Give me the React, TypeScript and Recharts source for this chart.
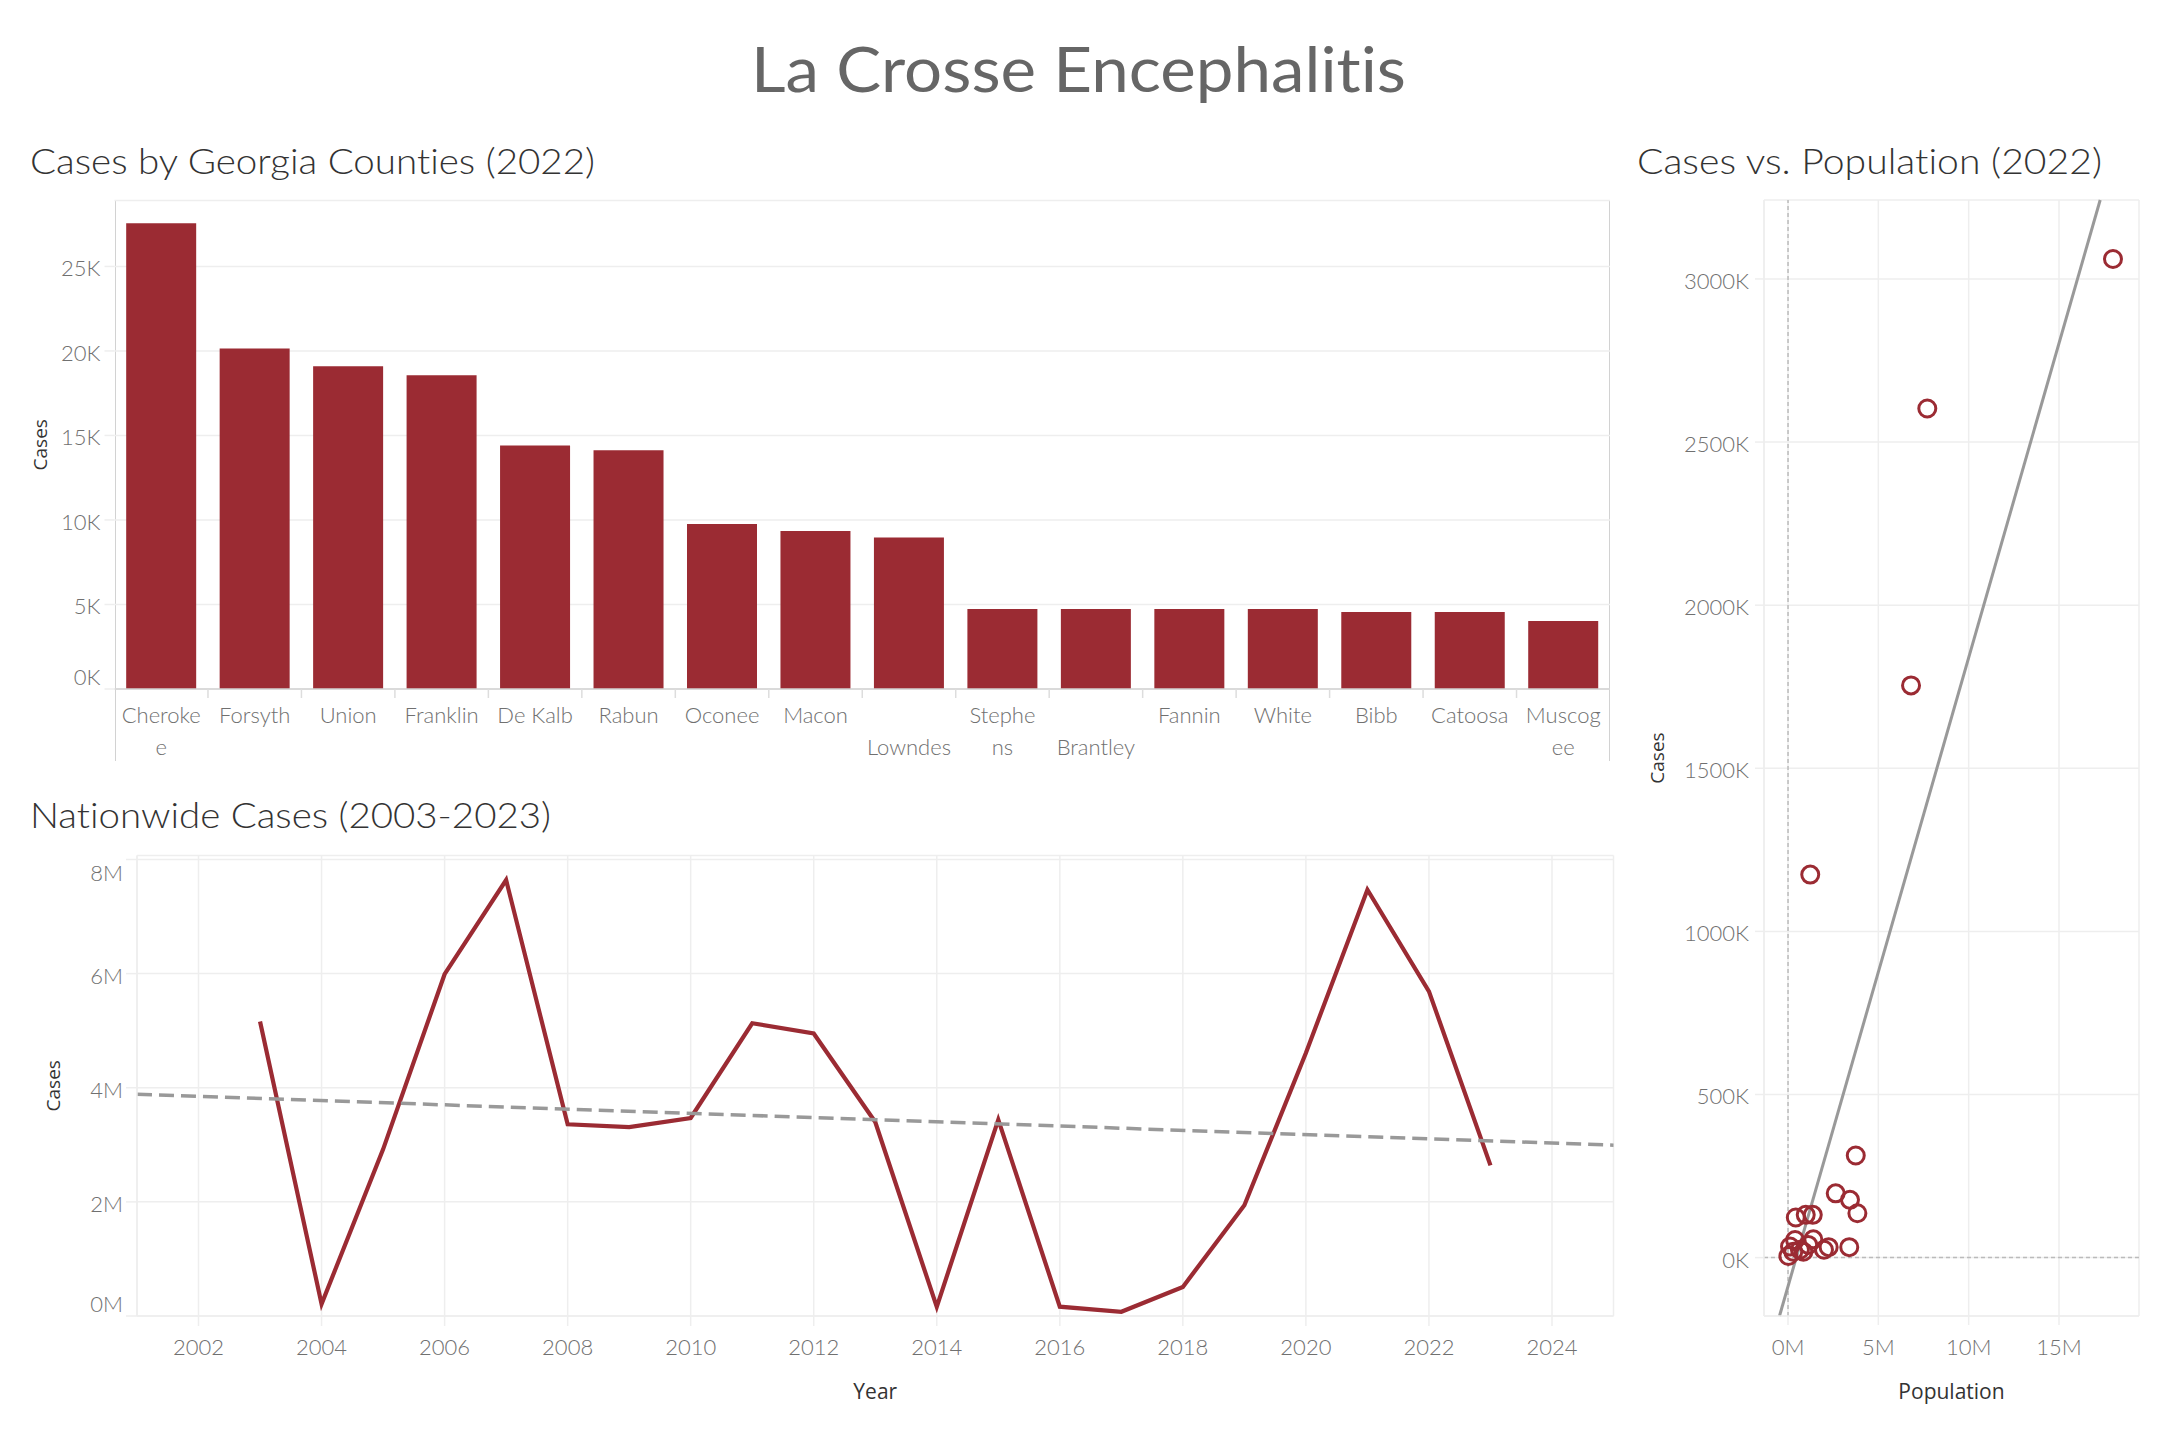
import React from 'react';
import {
  BarChart,
  Bar,
  LineChart,
  Line,
  ScatterChart,
  Scatter,
  XAxis,
  YAxis,
  CartesianGrid,
  ReferenceLine,
} from 'recharts';

// ---------- Data: Cases by Georgia Counties (2022) ----------
const COUNTIES = [
  'Cherokee', 'Forsyth', 'Union', 'Franklin', 'De Kalb', 'Rabun', 'Oconee', 'Macon',
  'Lowndes', 'Stephens', 'Brantley', 'Fannin', 'White', 'Bibb', 'Catoosa', 'Muscogee',
];
const COUNTY_TICK_LINES = [
  ['Cheroke', 'e'], ['Forsyth'], ['Union'], ['Franklin'], ['De Kalb'], ['Rabun'], ['Oconee'], ['Macon'],
  ['', 'Lowndes'], ['Stephe', 'ns'], ['', 'Brantley'], ['Fannin'], ['White'], ['Bibb'], ['Catoosa'], ['Muscog', 'ee'],
];
const COUNTY_CASES = [
  27560, 20150, 19090, 18560, 14410, 14120, 9760, 9350,
  8970, 4740, 4740, 4740, 4740, 4560, 4560, 4030,
];
const BAR_Y_TICKS = [0, 5000, 10000, 15000, 20000, 25000];

// ---------- Data: Nationwide Cases (2003-2023) ----------
const YEARS = [
  2003, 2004, 2005, 2006, 2007, 2008, 2009, 2010, 2011, 2012, 2013,
  2014, 2015, 2016, 2017, 2018, 2019, 2020, 2021, 2022, 2023,
];
const NATIONAL_CASES = [
  5160000, 210000, 2920000, 5990000, 7640000, 3360000, 3310000, 3470000, 5130000, 4950000, 3400000,
  160000, 3440000, 163000, 74000, 510000, 1940000, 4610000, 7470000, 5690000, 2640000,
];
const YEAR_TICKS = [2002, 2004, 2006, 2008, 2010, 2012, 2014, 2016, 2018, 2020, 2022, 2024];
const LINE_Y_TICKS = [0, 2000000, 4000000, 6000000, 8000000];

// ---------- Data: Cases vs. Population (2022) ----------
const POPULATION = [
  17990000, 7710000, 6810000, 1230000, 3750000, 2640000, 3430000, 3840000, 430000, 980000, 1370000,
  3390000, 2250000, 1990000, 1400000, 390000, 1120000, 110000, 20000, 290000, 660000, 850000,
];
const POP_CASES = [
  3061000, 2603000, 1754000, 1174000, 313000, 197000, 177000, 136000, 123000, 131000, 131000,
  32000, 32000, 24000, 56000, 54000, 39000, 34000, 5000, 18000, 24000, 18000,
];
const POP_X_TICKS = [0, 5000000, 10000000, 15000000];
const POP_Y_TICKS = [0, 500000, 1000000, 1500000, 2000000, 2500000, 3000000];

// ---------- Styles ----------
const RED = '#9b2b33';
const GRID = '#eeeeee';
const TICK_COLOR = '#707070';
const TICK_FONT = 'Lato, "Open Sans", sans-serif';
const TITLE_FONT = 'Lato, "Open Sans", sans-serif';
const AXIS_TITLE_FONT = '"Open Sans", "Noto Sans", sans-serif';
const TREND = '#999999';
const NO_LIGA = { fontVariantLigatures: 'none' as const };

// ---------- Built tables ----------
const barData = COUNTIES.map((c, i) => ({ county: c, cases: COUNTY_CASES[i], lines: COUNTY_TICK_LINES[i] }));
const lineData = YEARS.map((y, i) => ({ year: y, cases: NATIONAL_CASES[i] }));
const scatterData = POPULATION.map((p, i) => ({ pop: p, cases: POP_CASES[i] }));

function linReg(xs: number[], ys: number[]) {
  const n = xs.length;
  const mx = xs.reduce((a, b) => a + b, 0) / n;
  const my = ys.reduce((a, b) => a + b, 0) / n;
  let sxy = 0;
  let sxx = 0;
  for (let i = 0; i < n; i++) {
    sxy += (xs[i] - mx) * (ys[i] - my);
    sxx += (xs[i] - mx) * (xs[i] - mx);
  }
  const slope = sxy / sxx;
  return { slope, intercept: my - slope * mx };
}

const LINE_X_DOMAIN: [number, number] = [2001, 2025];
const LINE_Y_DOMAIN: [number, number] = [0, 8070000];
const lineTrend = linReg(YEARS, NATIONAL_CASES);
const lineTrendSeg = [
  { x: LINE_X_DOMAIN[0], y: lineTrend.intercept + lineTrend.slope * LINE_X_DOMAIN[0] },
  { x: LINE_X_DOMAIN[1], y: lineTrend.intercept + lineTrend.slope * LINE_X_DOMAIN[1] },
];

const POP_X_DOMAIN: [number, number] = [-1330000, 19430000];
const POP_Y_DOMAIN: [number, number] = [-179000, 3242000];
const popTrend = linReg(POPULATION, POP_CASES);
const popX0 = Math.max(POP_X_DOMAIN[0], (POP_Y_DOMAIN[0] - popTrend.intercept) / popTrend.slope);
const popX1 = Math.min(POP_X_DOMAIN[1], (POP_Y_DOMAIN[1] - popTrend.intercept) / popTrend.slope);
const popTrendSeg = [
  { x: popX0, y: popTrend.intercept + popTrend.slope * popX0 },
  { x: popX1, y: popTrend.intercept + popTrend.slope * popX1 },
];

// ---------- Custom ticks ----------
function makeYTick(fmt: (v: number) => string, shift: (v: number) => number) {
  return (props: any) => {
    const { x, y, payload } = props;
    return (
      <text
        x={x}
        y={y + shift(payload.value) + 2}
        dy="0.36em"
        textAnchor="end"
        fill={TICK_COLOR}
        fontSize={22}
        fontWeight={300}
        fontFamily={TICK_FONT}
      >
        {fmt(payload.value)}
      </text>
    );
  };
}

const BarYTick = makeYTick((v) => `${v / 1000}K`, (v) => (v === 0 ? -14 : 0));
const LineYTick = makeYTick((v) => `${v / 1000000}M`, (v) => (v === 0 ? -14 : v === 8000000 ? 12 : 0));
const PopYTick = makeYTick((v) => `${v / 1000}K`, () => 0);

const CountyTick = (props: any) => {
  const { x, y, payload, index } = props;
  const i = typeof payload.index === 'number' ? payload.index : index;
  const lines: string[] = COUNTY_TICK_LINES[i] || [String(payload.value)];
  const off = typeof payload.offset === 'number' && payload.offset > 0 ? payload.offset : 46.7;
  return (
    <g>
      {i > 0 && <line x1={x - off} x2={x - off} y1={y} y2={y + 9} stroke="#dddddd" strokeWidth={1.5} />}
      {lines.map((t, k) =>
        t ? (
          <text
            key={k}
            x={x}
            y={y + 26 + k * 32}
            dy="0.36em"
            textAnchor="middle"
            fill={TICK_COLOR}
            fontSize={22}
            fontWeight={300}
            fontFamily={TICK_FONT}
          >
            {t}
          </text>
        ) : null
      )}
    </g>
  );
};

const xTickStyle = { fill: TICK_COLOR, fontSize: 22, fontWeight: 300, fontFamily: TICK_FONT };
const axisTitleStyle = { fill: '#333333', fontSize: 21, fontFamily: AXIS_TITLE_FONT };

export default function App() {
  return (
    <div
      style={{
        position: 'absolute',
        left: 0,
        top: 0,
        width: 2158,
        height: 1438,
        background: '#ffffff',
        overflow: 'hidden',
        fontFamily: TITLE_FONT,
      }}
    >
      {/* Titles */}
      <svg width={2158} height={1438} style={{ position: 'absolute', left: 0, top: 0 }}>
        <text
          x={751}
          y={92}
          fontSize={62}
          textLength={655}
          lengthAdjust="spacingAndGlyphs"
          fill="#666666"
          fontFamily={TITLE_FONT}
          style={NO_LIGA}
        >
          La Crosse Encephalitis
        </text>
        <text
          x={30}
          y={174}
          fontSize={36}
          textLength={565}
          lengthAdjust="spacingAndGlyphs"
          fill="#333333"
          fontWeight={300}
          fontFamily={TITLE_FONT}
          style={NO_LIGA}
        >
          Cases by Georgia Counties (2022)
        </text>
        <text
          x={30}
          y={828}
          fontSize={36}
          textLength={521}
          lengthAdjust="spacingAndGlyphs"
          fill="#333333"
          fontWeight={300}
          fontFamily={TITLE_FONT}
          style={NO_LIGA}
        >
          Nationwide Cases (2003-2023)
        </text>
        <text
          x={1637}
          y={174}
          fontSize={36}
          textLength={465}
          lengthAdjust="spacingAndGlyphs"
          fill="#333333"
          fontWeight={300}
          fontFamily={TITLE_FONT}
          style={NO_LIGA}
        >
          Cases vs. Population (2022)
        </text>
      </svg>

      {/* Bar chart frame */}
      <div
        style={{
          position: 'absolute',
          left: 114.5,
          top: 200,
          width: 1495.5,
          height: 561,
          borderTop: '1.5px solid #d2d2d2',
          borderLeft: '1.5px solid #d2d2d2',
          borderRight: '1.5px solid #d2d2d2',
          boxSizing: 'border-box',
        }}
      />

      {/* Bar chart */}
      <div style={{ position: 'absolute', left: 0, top: 0 }}>
        <BarChart
          width={1640}
          height={780}
          data={barData}
          margin={{ top: 200.5, right: 30, bottom: 19, left: 0 }}
          barCategoryGap="12.5%"
        >
          <CartesianGrid vertical={false} stroke={GRID} strokeWidth={1.5} />
          <XAxis
            dataKey="county"
            type="category"
            interval={0}
            height={72}
            tickSize={0}
            tickMargin={0}
            tickLine={false}
            axisLine={{ stroke: '#d2d2d2', strokeWidth: 1.5 }}
            tick={<CountyTick />}
          />
          <YAxis
            width={114.5}
            domain={[0, 28900]}
            ticks={BAR_Y_TICKS}
            interval={0}
            allowDataOverflow
            tickSize={10}
            tickMargin={4}
            tickLine={{ stroke: GRID, strokeWidth: 1.5 }}
            axisLine={false}
            tick={BarYTick}
            label={{
              value: 'Cases',
              angle: -90,
              position: 'insideLeft',
              offset: 40,
              style: { textAnchor: 'middle' },
              ...axisTitleStyle,
              fontSize: 19,
            }}
          />
          <Bar dataKey="cases" fill={RED} isAnimationActive={false} />
        </BarChart>
      </div>

      {/* Line chart */}
      <div style={{ position: 'absolute', left: 0, top: 780 }}>
        <LineChart
          width={1640}
          height={658}
          data={lineData}
          margin={{ top: 75.5, right: 26.5, bottom: 22, left: 0 }}
        >
          <CartesianGrid stroke={GRID} strokeWidth={1.5} />
          <XAxis
            dataKey="year"
            type="number"
            domain={LINE_X_DOMAIN}
            ticks={YEAR_TICKS}
            interval={0}
            allowDataOverflow
            height={100}
            tickSize={10}
            tickMargin={13}
            tickLine={{ stroke: GRID, strokeWidth: 1.5 }}
            axisLine={{ stroke: GRID, strokeWidth: 1.5 }}
            tick={xTickStyle}
            label={{ value: 'Year', position: 'insideBottom', offset: 17, ...axisTitleStyle }}
          />
          <YAxis
            width={137}
            domain={LINE_Y_DOMAIN}
            ticks={LINE_Y_TICKS}
            interval={0}
            allowDataOverflow
            tickSize={11}
            tickMargin={3}
            tickLine={{ stroke: GRID, strokeWidth: 1.5 }}
            axisLine={{ stroke: GRID, strokeWidth: 1.5 }}
            tick={LineYTick}
            label={{
              value: 'Cases',
              angle: -90,
              position: 'insideLeft',
              offset: 53,
              style: { textAnchor: 'middle' },
              ...axisTitleStyle,
              fontSize: 19,
            }}
          />
          <Line
            type="linear"
            dataKey="cases"
            stroke={RED}
            strokeWidth={4.2}
            dot={false}
            activeDot={false}
            isAnimationActive={false}
          />
          <ReferenceLine
            segment={lineTrendSeg}
            stroke={TREND}
            strokeWidth={3.5}
            strokeDasharray="15 7"
            ifOverflow="visible"
          />
        </LineChart>
      </div>

      {/* Scatter chart */}
      <div style={{ position: 'absolute', left: 1640, top: 0 }}>
        <ScatterChart
          width={518}
          height={1438}
          margin={{ top: 200, right: 19, bottom: 22, left: 0 }}
        >
          <CartesianGrid stroke={GRID} strokeWidth={1.5} />
          <XAxis
            dataKey="pop"
            type="number"
            domain={POP_X_DOMAIN}
            ticks={POP_X_TICKS}
            interval={0}
            allowDataOverflow
            height={100}
            tickSize={9}
            tickMargin={14}
            tickLine={{ stroke: GRID, strokeWidth: 1.5 }}
            axisLine={{ stroke: GRID, strokeWidth: 1.5 }}
            tick={xTickStyle}
            tickFormatter={(v: number) => `${v / 1000000}M`}
            label={{ value: 'Population', position: 'insideBottom', offset: 17, ...axisTitleStyle }}
          />
          <YAxis
            dataKey="cases"
            type="number"
            width={124}
            domain={POP_Y_DOMAIN}
            ticks={POP_Y_TICKS}
            interval={0}
            allowDataOverflow
            tickSize={9}
            tickMargin={6}
            tickLine={{ stroke: GRID, strokeWidth: 1.5 }}
            axisLine={{ stroke: GRID, strokeWidth: 1.5 }}
            tick={PopYTick}
            label={{
              value: 'Cases',
              angle: -90,
              position: 'insideLeft',
              offset: 17,
              style: { textAnchor: 'middle' },
              ...axisTitleStyle,
              fontSize: 19,
            }}
          />
          <ReferenceLine x={0} stroke="#bbbbbb" strokeWidth={1.5} strokeDasharray="4 3" />
          <ReferenceLine y={0} stroke="#bbbbbb" strokeWidth={1.5} strokeDasharray="4 3" />
          <Scatter
            data={scatterData}
            isAnimationActive={false}
            shape={(p: any) => (
              <circle cx={p.cx} cy={p.cy} r={8.5} fill="none" stroke={RED} strokeWidth={3} />
            )}
          />
          <ReferenceLine segment={popTrendSeg} stroke={TREND} strokeWidth={3} ifOverflow="visible" />
        </ScatterChart>
      </div>
    </div>
  );
}
